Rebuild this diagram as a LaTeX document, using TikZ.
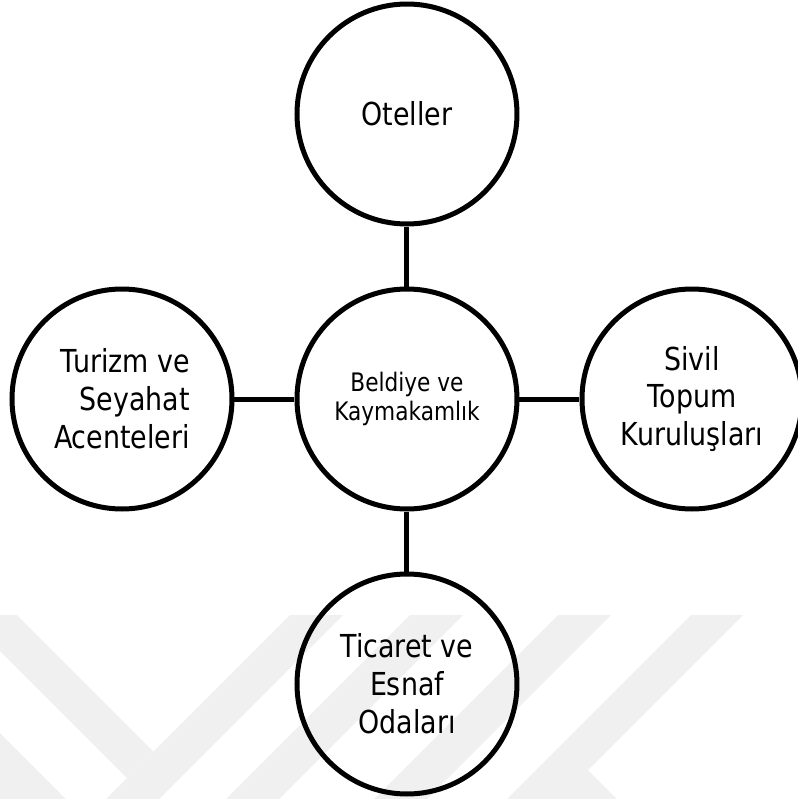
\documentclass[tikz,border=0pt]{standalone}
\usepackage{fontspec}
\setmainfont{DejaVu Sans}[FakeStretch=0.85]
\usepackage{tikz}
\usepackage{xcolor}
\usetikzlibrary{positioning}

\definecolor{wmgray}{HTML}{F0F0F0}

\begin{document}
\begin{tikzpicture}[node distance=1.2cm, every node/.style={circle, draw, line width=1mm, minimum size=4.4cm, align=center, font=\fontsize{18}{21.6}\selectfont}]
\useasboundingbox (-8.14,-8.0) rectangle (7.82,7.98);

% faint watermark at the bottom
\begin{scope}[x=0.02cm, y=-0.02cm, shift={(-407,-399)}]
\clip (0,0) rectangle (798,799);
\fill[wmgray] (-36,615) -- (17,615) -- (153.5,751.5) -- (127,778) -- cycle;
\fill[wmgray] (290,615) -- (343,615) -- (159,799) -- (106,799) -- cycle;
\fill[wmgray] (-20,733) -- (0,733) -- (86,819) -- (-20,819) -- cycle;
\fill[wmgray] (410,615) -- (463,615) -- (279,799) -- (226,799) -- cycle;
\fill[wmgray] (558,615) -- (611,615) -- (427,799) -- (374,799) -- cycle;
\fill[wmgray] (691,615) -- (743,615) -- (588,770) -- (617,799) -- (507,799) -- cycle;
\end{scope}

\node[font=\fontsize{14.5}{16.8}\selectfont] (B) {Beldiye ve\\Kaymakamlık};
\node[above=of B] (O) {Oteller};
\node[left=of B, align=right] (T) {Turizm ve\\Seyahat\\Acenteleri};
\node[right=of B] (S) {Sivil\\Topum\\Kuruluşları};
\node[below=of B] (E) {Ticaret ve\\Esnaf\\Odaları};

\draw[line width=1mm]
(B) -- (O)
(B) -- (T)
(B) -- (S)
(B) -- (E);
\end{tikzpicture}
\end{document}
